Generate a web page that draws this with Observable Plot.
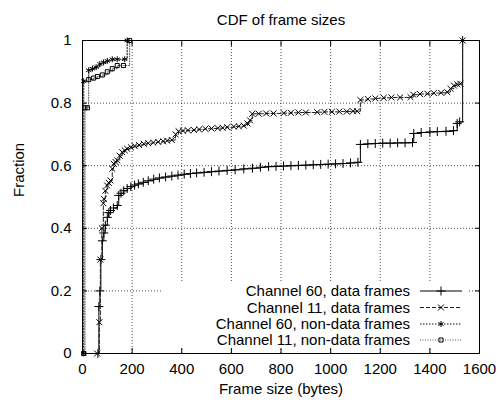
<!DOCTYPE html>
<html>
<head>
<meta charset="utf-8">
<script src="https://cdn.jsdelivr.net/npm/d3@7"></script>
<script src="https://cdn.jsdelivr.net/npm/@observablehq/plot@0.6"></script>
<style>
  body { margin: 0; background: white; }
  #wrap { position: relative; width: 502px; height: 407px; font-family: "Liberation Sans", Arial, sans-serif; }
  #legend { position: absolute; left: 0; top: 0; pointer-events: none; }
</style>
</head>
<body>
<div id="wrap"></div>
<script>
// ---- data ----
const titleText = "CDF of frame sizes";
const xLabel = "Frame size (bytes)";
const yLabel = "Fraction";
const xTicks = [0, 200, 400, 600, 800, 1000, 1200, 1400, 1600];
const yTicks = [0, 0.2, 0.4, 0.6, 0.8, 1];
const seriesNames = ["Channel 60, data frames", "Channel 11, data frames", "Channel 60, non-data frames", "Channel 11, non-data frames"];

const ch60DataX = [62, 66, 70, 74, 80, 86, 92, 100, 106, 113, 125, 140, 146, 155, 166, 180, 195, 210, 225, 245, 265, 287, 310, 335, 360, 385, 410, 435, 460, 490, 520, 550, 583, 615, 650, 685, 717, 750, 780, 810, 840, 870, 900, 930, 960, 990, 1020, 1050, 1080, 1110, 1120, 1150, 1180, 1210, 1240, 1270, 1300, 1330, 1335, 1365, 1400, 1430, 1465, 1495, 1510, 1520, 1532];
const ch60DataY = [0, 0.15, 0.2, 0.3, 0.36, 0.385, 0.41, 0.435, 0.45, 0.457, 0.465, 0.473, 0.505, 0.512, 0.52, 0.527, 0.533, 0.538, 0.542, 0.547, 0.552, 0.557, 0.561, 0.564, 0.567, 0.57, 0.573, 0.575, 0.577, 0.579, 0.581, 0.583, 0.585, 0.587, 0.59, 0.592, 0.595, 0.597, 0.598, 0.599, 0.6, 0.601, 0.602, 0.603, 0.604, 0.605, 0.606, 0.607, 0.609, 0.611, 0.668, 0.67, 0.671, 0.672, 0.672, 0.673, 0.673, 0.674, 0.703, 0.706, 0.708, 0.709, 0.71, 0.712, 0.735, 0.74, 1.0];

const ch11DataX = [59, 68, 72, 78, 84, 86, 92, 99, 106, 113, 120, 126, 133, 140, 150, 160, 170, 180, 195, 210, 228, 247, 265, 285, 305, 325, 341, 360, 375, 387, 405, 425, 449, 470, 495, 520, 545, 565, 583, 610, 630, 650, 665, 675, 684, 710, 740, 770, 811, 840, 870, 900, 946, 975, 1005, 1035, 1065, 1090, 1107, 1120, 1150, 1180, 1214, 1245, 1280, 1322, 1333, 1360, 1390, 1416, 1445, 1470, 1483, 1497, 1510, 1523, 1532];
const ch11DataY = [0, 0.1, 0.3, 0.4, 0.48, 0.494, 0.52, 0.537, 0.545, 0.553, 0.59, 0.606, 0.612, 0.617, 0.632, 0.643, 0.649, 0.654, 0.659, 0.663, 0.666, 0.67, 0.672, 0.674, 0.676, 0.678, 0.68, 0.682, 0.7, 0.71, 0.712, 0.713, 0.714, 0.716, 0.718, 0.719, 0.72, 0.721, 0.723, 0.725, 0.726, 0.728, 0.735, 0.745, 0.766, 0.766, 0.767, 0.767, 0.768, 0.769, 0.77, 0.77, 0.771, 0.772, 0.772, 0.773, 0.773, 0.774, 0.774, 0.81, 0.813, 0.815, 0.817, 0.818, 0.818, 0.819, 0.827, 0.829, 0.83, 0.832, 0.833, 0.835, 0.846, 0.856, 0.86, 0.862, 1.0];

const ch60NonX = [5, 5, 25, 40, 55, 70, 85, 100, 120, 140, 170, 180];
const ch60NonY = [0, 0.87, 0.905, 0.91, 0.915, 0.925, 0.93, 0.935, 0.94, 0.94, 0.94, 1.0];

const ch11NonX = [5, 10, 20, 25, 45, 60, 80, 100, 120, 140, 165, 190];
const ch11NonY = [0, 0.785, 0.785, 0.875, 0.88, 0.885, 0.89, 0.9, 0.91, 0.92, 0.92, 1.0];

// ---- build tables ----
const zip = (xs, ys) => xs.map((x, i) => ({x, y: ys[i]}));
const s60d = zip(ch60DataX, ch60DataY);
const s11d = zip(ch11DataX, ch11DataY);
const s60n = zip(ch60NonX, ch60NonY);
const s11n = zip(ch11NonX, ch11NonY);

const styles = [
  {data: s60d, stroke: "#000", dash: null, symbol: "plus", r: 3},
  {data: s11d, stroke: "#222", dash: "4,2", symbol: "times", r: 2.8},
  {data: s60n, stroke: "#111", dash: "1.5,1.5", symbol: "asterisk", r: 2.8},
  {data: s11n, stroke: "#555", dash: "1,1.5", symbol: "square2", r: 2.6}
];

const FS = 15;
const fmt = d => String(d);
const marks = [
  Plot.gridX(xTicks.slice(1, -1), {stroke: "#000", strokeOpacity: 0.7, strokeDasharray: "1,2"}),
  Plot.gridY(yTicks.slice(1, -1), {stroke: "#000", strokeOpacity: 0.7, strokeDasharray: "1,2"}),
];
styles.forEach(s => {
  marks.push(Plot.line(s.data, {x: "x", y: "y", curve: "step-after", stroke: s.stroke, strokeWidth: 1, strokeDasharray: s.dash}));
  marks.push(Plot.dot(s.data, {x: "x", y: "y", symbol: s.symbol, r: s.r, stroke: "#000", fill: "none", strokeWidth: 1}));
});
marks.push(
  Plot.frame({stroke: "#000", strokeWidth: 1}),
  Plot.axisX({ticks: xTicks, tickFormat: fmt, tickSize: -5, tickPadding: 15, label: null, fontSize: FS}),
  Plot.axisX({anchor: "top", ticks: xTicks, tickFormat: () => "", tickSize: -5, label: null}),
  Plot.axisY({ticks: yTicks, tickFormat: fmt, tickSize: -5, tickPadding: 16, label: null, fontSize: FS}),
  Plot.axisY({anchor: "right", ticks: yTicks, tickFormat: () => "", tickSize: -5, label: null}),
  Plot.text([titleText], {frameAnchor: "top", dy: -26, fontSize: FS}),
  Plot.text([xLabel], {frameAnchor: "bottom", dy: 40, fontSize: FS}),
  Plot.text([yLabel], {frameAnchor: "left", dx: -63, rotate: -90, fontSize: FS})
);

const chart = Plot.plot({
  width: 502,
  height: 407,
  marginLeft: 82,
  marginRight: 23,
  marginTop: 40,
  marginBottom: 54,
  style: {fontFamily: "Liberation Sans, Arial, sans-serif", fontSize: FS + "px", background: "white", color: "#000"},
  x: {domain: [0, 1600]},
  y: {domain: [0, 1]},
  marks
});
const wrap = document.getElementById("wrap");
wrap.appendChild(chart);

// ---- legend overlay (key box, as in gnuplot) ----
const ns = "http://www.w3.org/2000/svg";
const leg = document.createElementNS(ns, "svg");
leg.setAttribute("id", "legend");
leg.setAttribute("width", 502);
leg.setAttribute("height", 407);
const bg = document.createElementNS(ns, "rect");
bg.setAttribute("x", 163); bg.setAttribute("y", 281);
bg.setAttribute("width", 306); bg.setAttribute("height", 67);
bg.setAttribute("fill", "white");
leg.appendChild(bg);
const rowY = [291, 307.5, 324, 340];
const symMap = {plus: d3.symbolPlus, times: d3.symbolTimes, asterisk: d3.symbolAsterisk, square2: d3.symbolSquare2};
seriesNames.forEach((name, i) => {
  const t = document.createElementNS(ns, "text");
  t.setAttribute("x", 410); t.setAttribute("y", rowY[i]);
  t.setAttribute("dy", "0.35em");
  t.setAttribute("text-anchor", "end");
  t.setAttribute("font-size", FS);
  t.setAttribute("font-family", "Liberation Sans, Arial, sans-serif");
  t.textContent = name;
  leg.appendChild(t);
  const l = document.createElementNS(ns, "line");
  l.setAttribute("x1", 420); l.setAttribute("x2", 462);
  l.setAttribute("y1", rowY[i]); l.setAttribute("y2", rowY[i]);
  l.setAttribute("stroke", styles[i].stroke);
  if (styles[i].dash) l.setAttribute("stroke-dasharray", styles[i].dash);
  leg.appendChild(l);
  const p = document.createElementNS(ns, "path");
  const r = styles[i].r;
  p.setAttribute("d", d3.symbol(symMap[styles[i].symbol], r * r * Math.PI)());
  p.setAttribute("transform", `translate(441,${rowY[i]})`);
  p.setAttribute("fill", "none");
  p.setAttribute("stroke", "#000");
  leg.appendChild(p);
});
wrap.appendChild(leg);
</script>
</body>
</html>
